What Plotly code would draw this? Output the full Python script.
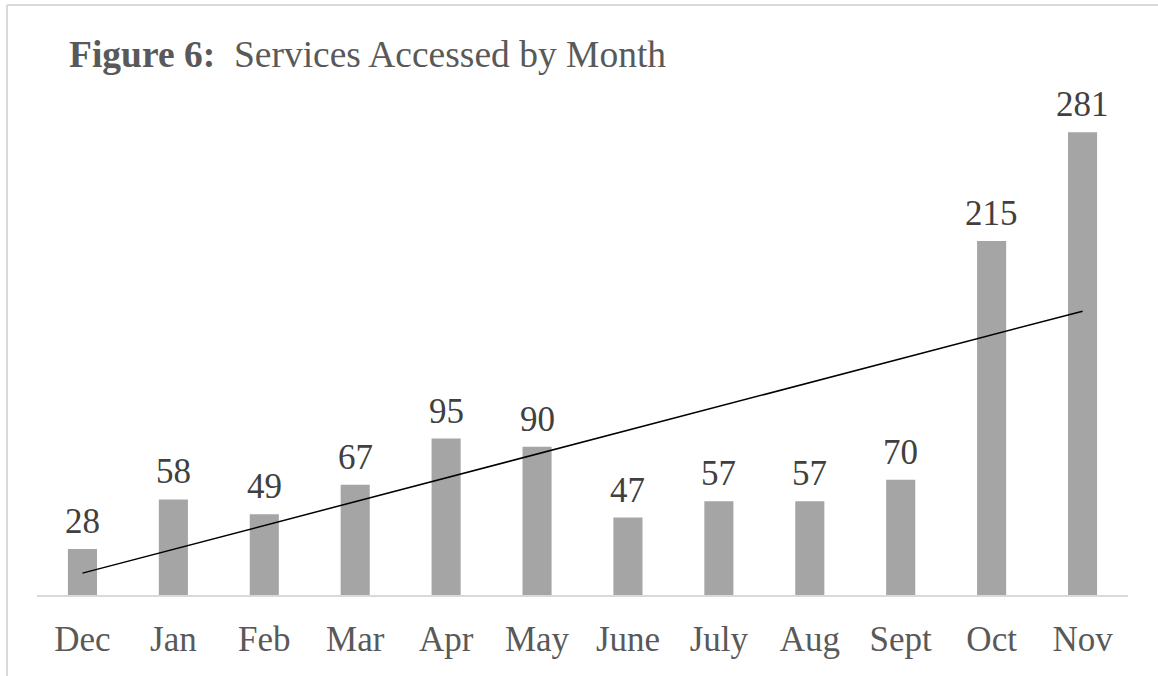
import numpy as np
import plotly.graph_objects as go

months = ['Dec', 'Jan', 'Feb', 'Mar', 'Apr', 'May', 'June', 'July', 'Aug', 'Sept', 'Oct', 'Nov']
services = [28, 58, 49, 67, 95, 90, 47, 57, 57, 70, 215, 281]

W, H = 1158, 676
ML, MR, MT, MB = 37, 30, 101, 81
pw, ph = W - ML - MR, H - MT - MB

# linear trendline like Excel's
idx = np.arange(1, len(months) + 1)
slope, icpt = np.polyfit(idx, services, 1)
trend = slope * idx + icpt

fig = go.Figure()
fig.add_trace(go.Bar(x=months, y=services, marker_color='#A5A5A5',
                     marker_line_width=0, showlegend=False, hoverinfo='x+y'))
fig.add_trace(go.Scatter(x=months, y=trend, mode='lines',
                         line=dict(color='black', width=1.5), showlegend=False))

for m, v in zip(months, services):
    fig.add_annotation(x=m, y=v, text=str(v), showarrow=False, yanchor='bottom',
                       yshift=6, font=dict(family='Liberation Serif', size=35, color='#404040'))

fig.add_annotation(xref='paper', yref='paper', x=(67 - ML) / pw, y=1 + (MT - 54) / ph,
                   xanchor='left', yanchor='middle', showarrow=False,
                   text='<b>Figure 6:</b>\u00a0 Services Accessed by Month',
                   font=dict(family='Liberation Serif', size=37.5, color='#595959'))

# chart border (cropped: only left and top visible)
bx = (7 - ML) / pw
by = 1 + (MT - 5) / ph
fig.add_shape(type='line', xref='paper', yref='paper', x0=bx, x1=bx, y0=by, y1=-MB / ph - 0.01,
              line=dict(color='#D9D9D9', width=2))
fig.add_shape(type='line', xref='paper', yref='paper', x0=bx, x1=1 + MR / pw + 0.01, y0=by, y1=by,
              line=dict(color='#D9D9D9', width=2))

fig.update_layout(
    width=W, height=H, margin=dict(l=ML, r=MR, t=MT, b=MB),
    paper_bgcolor='white', plot_bgcolor='white', bargap=0.68,
    font=dict(family='Liberation Serif', color='#595959'),
    xaxis=dict(showline=True, linecolor='#D9D9D9', linewidth=1.5, showgrid=False, automargin=False,
               ticks='', ticklabelstandoff=12, tickfont=dict(size=35, color='#595959')),
    yaxis=dict(range=[0, 300], visible=False, automargin=False),
)

fig.write_html("out.html", config={'displayModeBar': False},
               post_script="document.body.style.margin='0';document.body.style.overflow='hidden';")
